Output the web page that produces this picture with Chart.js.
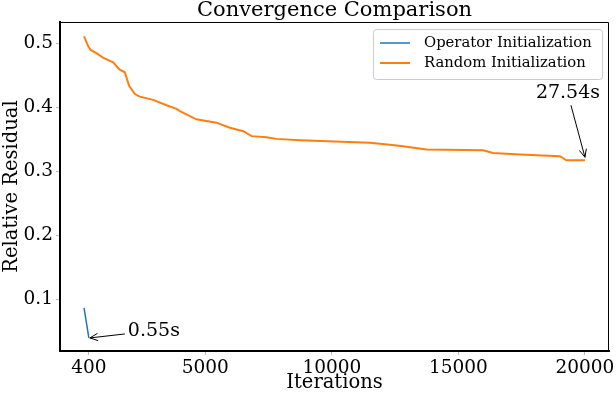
<!DOCTYPE html>
<html><head><meta charset="utf-8">
<script src="https://cdn.jsdelivr.net/npm/chart.js@4.4.1/dist/chart.umd.min.js"></script>
<style>html,body{margin:0;padding:0;background:#fff;}#wrap{width:616px;height:396px;}</style>
</head><body><div id="wrap"><canvas id="c" width="616" height="396"></canvas></div>
<script>
const seriesLabels = ['Operator Initialization', 'Random Initialization'];
const operatorIters = [210, 400];
const operatorResidual = [0.087, 0.040];
const randomIters = [210, 370, 470, 700, 960, 1360, 1620, 1820, 1990, 2220, 2410, 2940, 3470, 3860, 4000, 4650, 5440, 5970, 6500, 6830, 7420, 7820, 8740, 11500, 12290, 12820, 13740, 15980, 16370, 17430, 19010, 19270, 20000];
const randomResidual = [0.511, 0.496, 0.490, 0.485, 0.478, 0.4705, 0.459, 0.455, 0.434, 0.421, 0.417, 0.412, 0.4035, 0.398, 0.3945, 0.3815, 0.3763, 0.3684, 0.363, 0.3553, 0.3537, 0.351, 0.349, 0.345, 0.342, 0.3396, 0.3344, 0.3333, 0.329, 0.3265, 0.3239, 0.3176, 0.3176];
const xTickValues = [400, 5000, 10000, 15000, 20000];
const xTickLabels = ['400', '5000', '10000', '15000', '20000'];
const yTickValues = [0.1, 0.2, 0.3, 0.4, 0.5];
const yTickLabels = ['0.1', '0.2', '0.3', '0.4', '0.5'];
const timeLabels = ['0.55s', '27.54s'];

const FONT = "'DejaVu Serif', serif";
const colors = ['#1f77b4', '#ff7f0e'];

function pts(xs, ys) { return xs.map((x, i) => ({x: x, y: ys[i]})); }

function arrow(ctx, x1, y1, x2, y2) {
  ctx.save();
  ctx.strokeStyle = '#000'; ctx.lineWidth = 1;
  ctx.beginPath(); ctx.moveTo(x1, y1); ctx.lineTo(x2, y2); ctx.stroke();
  const a = Math.atan2(y2 - y1, x2 - x1);
  const L = 8, W = 3.6;
  const bx = x2 - L * Math.cos(a), by = y2 - L * Math.sin(a);
  const nx = -Math.sin(a) * W, ny = Math.cos(a) * W;
  ctx.beginPath();
  ctx.moveTo(bx + nx, by + ny); ctx.lineTo(x2, y2); ctx.lineTo(bx - nx, by - ny);
  ctx.stroke();
  ctx.restore();
}

const decor = {
  id: 'decor',
  afterDatasetsDraw(chart) {
    const ctx = chart.ctx, a = chart.chartArea;
    ctx.save();
    ctx.strokeStyle = '#000'; ctx.lineWidth = 1;
    ctx.beginPath();
    ctx.moveTo(a.left, a.top + 0.5); ctx.lineTo(a.right - 0.5, a.top + 0.5); ctx.lineTo(a.right - 0.5, a.bottom);
    ctx.stroke();
    const m0 = chart.getDatasetMeta(0).data, m1 = chart.getDatasetMeta(1).data;
    const p0 = m0[m0.length - 1], p1 = m1[m1.length - 1];
    ctx.fillStyle = '#000';
    ctx.font = '19px ' + FONT;
    ctx.textBaseline = 'middle';
    ctx.textAlign = 'left';
    ctx.fillText(timeLabels[0], p0.x + 39, p0.y - 7);
    arrow(ctx, p0.x + 36, p0.y - 4, p0.x + 1, p0.y);
    ctx.textAlign = 'center';
    ctx.fillText(timeLabels[1], p1.x - 17, p1.y - 67);
    arrow(ctx, p1.x - 14, p1.y - 55, p1.x, p1.y - 3);
    const w = 229, h = 50;
    const lx = a.right - 7 - w, ly = a.top + 7;
    ctx.beginPath();
    if (ctx.roundRect) ctx.roundRect(lx + 0.5, ly + 0.5, w, h, 3); else ctx.rect(lx + 0.5, ly + 0.5, w, h);
    ctx.fillStyle = 'rgba(255,255,255,0.8)'; ctx.fill();
    ctx.strokeStyle = '#cccccc'; ctx.lineWidth = 1; ctx.stroke();
    ctx.font = '14.8px ' + FONT; ctx.textAlign = 'left'; ctx.textBaseline = 'middle';
    chart.data.datasets.forEach((ds, i) => {
      const yy = ly + 14 + i * 20;
      ctx.strokeStyle = ds.borderColor; ctx.lineWidth = ds.borderWidth;
      ctx.beginPath(); ctx.moveTo(lx + 7, yy); ctx.lineTo(lx + 37, yy); ctx.stroke();
      ctx.fillStyle = '#000';
      ctx.fillText(ds.label, lx + 51, yy);
    });
    ctx.restore();
  }
};

new Chart(document.getElementById('c'), {
  type: 'line',
  data: {
    datasets: [
      {label: seriesLabels[0], data: pts(operatorIters, operatorResidual), borderColor: colors[0], backgroundColor: colors[0], borderWidth: 1.5, pointRadius: 0, tension: 0, fill: false},
      {label: seriesLabels[1], data: pts(randomIters, randomResidual), borderColor: colors[1], backgroundColor: colors[1], borderWidth: 2, pointRadius: 0, tension: 0, fill: false}
    ]
  },
  options: {
    responsive: false, animation: false, devicePixelRatio: 1,
    layout: {padding: {left: 0, right: 7, top: 0, bottom: 0}},
    plugins: {legend: {display: false}, title: {display: false}, tooltip: {enabled: false}},
    scales: {
      x: {
        type: 'linear', position: 'bottom', min: -740, max: 20950,
        afterBuildTicks: s => { s.ticks = xTickValues.map(v => ({value: v})); },
        afterFit: s => { s.height = 45; s.paddingLeft = 0; s.paddingRight = 0; },
        ticks: {callback: (v) => xTickLabels[xTickValues.indexOf(v)], font: {family: FONT, size: 18.5}, color: '#000', padding: 2, maxRotation: 0, autoSkip: false},
        grid: {drawOnChartArea: false, drawTicks: true, tickLength: 4, tickColor: '#bbbbbb'},
        border: {display: true, color: '#000', width: 2},
        title: {display: true, text: 'Iterations', font: {family: FONT, size: 19.5, lineHeight: 1.2}, color: '#000', padding: {top: 0, bottom: 1.5}}
      },
      x2: {
        type: 'linear', position: 'top', min: -740, max: 20950,
        afterFit: s => { s.height = 22; s.paddingLeft = 0; s.paddingRight = 0; },
        ticks: {display: false},
        grid: {display: false},
        border: {display: false},
        title: {display: true, text: 'Convergence Comparison', font: {family: FONT, size: 21, lineHeight: 1}, color: '#000', padding: {top: 0.5, bottom: 0}}
      },
      y: {
        type: 'linear', position: 'left', min: 0.0196, max: 0.5336,
        afterBuildTicks: s => { s.ticks = yTickValues.map(v => ({value: v})); },
        afterFit: s => { s.width = 60; s.paddingTop = 0; s.paddingBottom = 0; },
        ticks: {callback: (v) => yTickLabels[yTickValues.indexOf(v)], font: {family: FONT, size: 18.5}, color: '#000', padding: 3},
        grid: {drawOnChartArea: false, drawTicks: true, tickLength: 4, tickColor: '#bbbbbb'},
        border: {display: true, color: '#000', width: 2},
        title: {display: true, text: 'Relative Residual', font: {family: FONT, size: 19.5, lineHeight: 1.2}, color: '#000', padding: {top: 0.5, bottom: 0}}
      }
    }
  },
  plugins: [decor]
});
</script></body></html>
